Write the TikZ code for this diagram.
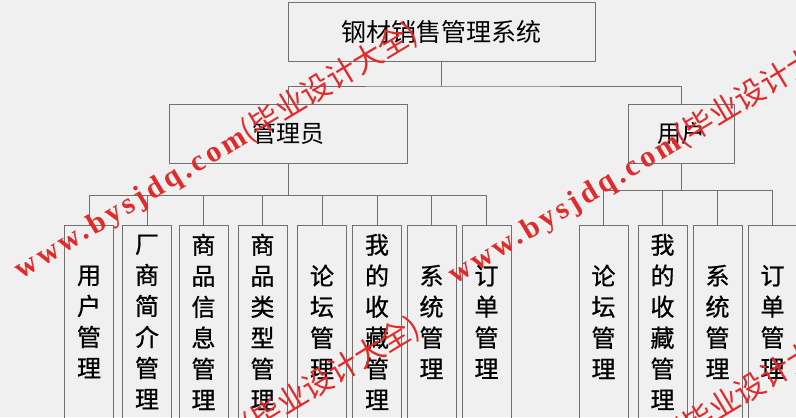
\documentclass[tikz,border=0pt]{standalone}
\usepackage{fontspec}
\newfontfamily\cjk{Noto Sans CJK SC}
\newfontfamily\cjkheavy[FakeBold=0.8]{Noto Sans CJK SC}
\newfontfamily\wmlatin[LetterSpace=12]{Liberation Serif}
\definecolor{bgc}{RGB}{240,240,240}
\definecolor{boxc}{RGB}{112,112,112}
\definecolor{wmc}{RGB}{226,42,42}
\tikzset{
  box/.style={draw=boxc, line width=0.8pt, inner sep=0pt, font=\cjk\fontsize{24bp}{31bp}\selectfont},
  leaf/.style={box, minimum width=49bp, minimum height=193bp, anchor=north, align=center,
    font=\cjkheavy\fontsize{24bp}{31bp}\selectfont},
  wire/.style={draw=boxc, line width=0.8pt},
  wm/.style={text=wmc, rotate=31, inner sep=0pt, font=\fontsize{30bp}{30bp}\selectfont}
}
\newcommand{\wmline}{{\wmlatin\bfseries www.bysjdq.com}{\cjk(毕业设计大全)}}
\begin{document}
\begin{tikzpicture}[x=1bp, y=-1bp, line join=round, line cap=round]
\path[use as bounding box, fill=bgc] (0,0) rectangle (796,417);

\node[box, minimum width=307bp, minimum height=59bp, font=\cjk\fontsize{25bp}{25bp}\selectfont] (sys) at (441.5,31.5) {钢材销售管理系统};
\node[box, minimum width=238bp, minimum height=59bp] (admin) at (288,133.5) {管理员};
\node[box, minimum width=106bp, minimum height=59bp] (user) at (681,133.5) {用户};
\path (441.5,86)coordinate(t) (288,195)coordinate(ta) (681,190)coordinate(tu);

\foreach \x/\n/\t in {89/a1/{用\\户\\管\\理}, 147/a2/{厂\\商\\简\\介\\管\\理},
    203.5/a3/{商\\品\\信\\息\\管\\理}, 262.5/a4/{商\\品\\类\\型\\管\\理},
    322/a5/{论\\坛\\管\\理}, 377/a6/{我\\的\\收\\藏\\管\\理},
    431.5/a7/{系\\统\\管\\理}, 486.5/a8/{订\\单\\管\\理}}
  \node[leaf] (\n) at (\x,225) {\t};
\foreach \x/\n/\t in {603.5/u1/{论\\坛\\管\\理}, 662.5/u2/{我\\的\\收\\藏\\管\\理},
    717.5/u3/{系\\统\\管\\理}, 772.5/u4/{订\\单\\管\\理}}
  \node[leaf] (\n) at (\x,225) {\t};

\draw[wire] (sys.south)--(t);
\draw[wire] (admin.north)|-(t)-|(user.north);
\draw[wire] (admin.south)--(ta);
\foreach \i in {1,...,8} \draw[wire] (a\i.north)|-(ta);
\draw[wire] (user.south)--(tu);
\foreach \i in {1,...,4} \draw[wire] (u\i.north)|-(tu);

% watermark
\node[wm] (wm1) at (216,151) {\wmline};
\node[wm] (wm2) at (650,156) {\wmline};
\node[wm] (wm3) at (218,445) {\wmline};
\node[wm] (wm4) at (650,450) {\wmline};
\end{tikzpicture}
\end{document}
